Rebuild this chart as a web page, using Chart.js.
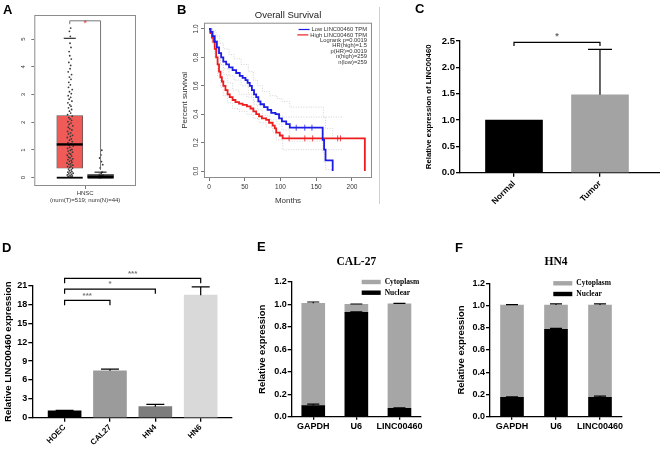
<!DOCTYPE html>
<html>
<head>
<meta charset="utf-8">
<script src="https://cdn.jsdelivr.net/npm/chart.js@4.4.1/dist/chart.umd.min.js"></script>
<style>
    body { margin: 0; background: #fff; }
    #wrap { position: relative; width: 660px; height: 449px; overflow: hidden; font-family: 'Liberation Sans', Arial, sans-serif; }
    #wrap canvas { position: absolute; }
    .lbl { position: absolute; font-weight: bold; font-size: 13px; line-height: 13px; color: #000; }
    .sep { position: absolute; left: 379px; top: 7px; width: 1px; height: 197px; background: #d0d0d0; }
</style>
</head>
<body>
<div id="wrap">
    <canvas id="chartA" width="140" height="210" style="left:0;top:0"></canvas>
    <canvas id="chartB" width="198" height="210" style="left:180px;top:0"></canvas>
    <canvas id="chartC" width="248" height="190" style="left:412px;top:20px"></canvas>
    <canvas id="chartD" width="235" height="209" style="left:0;top:240px"></canvas>
    <canvas id="chartE" width="200" height="209" style="left:240px;top:240px"></canvas>
    <canvas id="chartF" width="220" height="209" style="left:440px;top:240px"></canvas>
    <div class="sep"></div>
    <div class="lbl" style="left:3px;top:3px">A</div>
    <div class="lbl" style="left:177px;top:3px">B</div>
    <div class="lbl" style="left:415px;top:2px">C</div>
    <div class="lbl" style="left:2px;top:241px">D</div>
    <div class="lbl" style="left:257px;top:240px">E</div>
    <div class="lbl" style="left:455px;top:241px">F</div>
</div>
<script>
// ---- A: GEPIA box plot (HNSC) ----
const boxPos = [1, 2] // Tumor, Normal
const boxQ1 = [0.34, 0.0]
const boxQ3 = [2.24, 0.12]
const boxMedian = [1.2, 0.04]
const boxWhiskLow = [0, 0]
const boxWhiskHigh = [5.03, 0.2]
const boxColors = ['#f05a57', '#8a8a8a']
const aYTicks = [0, 1, 2, 3, 4, 5]
const aXLabel = ['HNSC', '(num(T)=519; num(N)=44)']
const tumorPts = [
    [0.98,0.02],[1.04,0.03],[0.95,0.05],[1.08,0.06],[1.01,0.08],[0.92,0.1],[1.06,0.12],[0.97,0.14],[1.11,0.16],[1.02,0.18],[0.94,0.2],[1.07,0.22],[0.99,0.25],[1.05,0.28],
    [0.96,0.31],[1.09,0.34],[1.0,0.37],[0.93,0.4],[1.04,0.42],[1.1,0.45],[0.97,0.48],[1.03,0.5],[0.91,0.53],[1.07,0.56],[0.99,0.59],
    [1.05,0.62],[0.94,0.65],[1.1,0.68],[1.01,0.71],[0.96,0.74],[1.06,0.78],[0.92,0.81],[1.03,0.85],[0.98,0.88],[1.09,0.92],[0.95,0.96],[1.02,0.99],
    [1.07,1.02],[0.93,1.06],[1.0,1.1],[1.11,1.14],[0.97,1.18],[1.04,1.22],[0.94,1.26],[1.08,1.3],[0.99,1.35],[1.05,1.4],[0.92,1.45],[1.02,1.49],
    [1.09,1.53],[0.96,1.58],[1.03,1.62],[0.93,1.67],[1.07,1.72],[1.0,1.77],[0.95,1.82],[1.1,1.87],[0.98,1.92],[1.04,1.97],
    [0.94,2.02],[1.06,2.07],[1.01,2.12],[0.97,2.17],[1.08,2.22],[0.93,2.27],[1.03,2.33],[0.99,2.4],[1.06,2.46],
    [0.96,2.52],[1.04,2.58],[1.0,2.63],[0.94,2.7],[1.07,2.76],[0.98,2.83],[1.03,2.9],[0.95,2.96],
    [1.05,3.03],[0.99,3.1],[1.08,3.18],[0.96,3.26],[1.02,3.35],[0.97,3.44],
    [1.04,3.55],[0.99,3.63],[1.06,3.72],[0.95,3.82],[1.01,3.93],
    [1.03,4.05],[0.97,4.16],[1.05,4.28],[1.0,4.4],
    [0.98,4.55],[1.04,4.7],[1.01,4.85],
    [1.02,5.1],[0.99,5.28],[1.03,5.4]
]
const normalPts = [
    [1.97,0.0],[2.03,0.01],[1.95,0.02],[2.06,0.03],[2.0,0.04],[1.93,0.05],[2.04,0.06],[1.98,0.08],[2.08,0.1],
    [1.96,0.12],[2.02,0.15],[2.05,0.2],[1.99,0.35],[2.07,0.47],[2.03,0.58],[1.97,0.71],[2.01,0.82],[2.04,0.99]
]

// ---- B: Kaplan-Meier, overall survival (months, survival) ----
const kmLow = [
    [0,1],[2,0.98],[5,0.95],[8,0.91],[11,0.87],[14,0.83],[17,0.8],[20,0.77],[24,0.75],[28,0.73],[33,0.71],[38,0.69],
    [43,0.67],[47,0.655],[51,0.64],[54,0.62],[57,0.6],[60,0.57],[63,0.54],[66,0.52],[69,0.49],[72,0.47],[77,0.45],
    [82,0.43],[87,0.41],[93,0.4],[98,0.37],[102,0.35],[108,0.33],[113,0.305],[159,0.22],[161,0.15],[163,0.075],[173,0]
]
const kmHigh = [
    [0,1],[2,0.97],[4,0.94],[6,0.91],[8,0.86],[10,0.8],[12,0.75],[14,0.7],[16,0.66],[18,0.63],[20,0.6],[23,0.57],
    [26,0.54],[29,0.52],[33,0.5],[37,0.485],[42,0.475],[47,0.465],[53,0.455],[58,0.44],[62,0.42],[66,0.4],[70,0.385],
    [74,0.37],[80,0.36],[84,0.34],[89,0.32],[92,0.3],[94,0.27],[99,0.25],[103,0.23],[218,0]
]
const ciLowUp = [[0,1],[5,0.99],[10,0.95],[15,0.9],[20,0.86],[28,0.82],[35,0.79],[45,0.75],[55,0.7],[62,0.64],[68,0.6],[75,0.56],[85,0.53],[95,0.51],[102,0.49],[113,0.45],[160,0.38],[163,0.3],[173,0.22]]
const ciLowDn = [[0,1],[5,0.92],[10,0.86],[15,0.78],[20,0.72],[28,0.67],[35,0.64],[45,0.6],[55,0.54],[62,0.47],[68,0.43],[75,0.39],[85,0.36],[95,0.33],[102,0.29],[113,0.21],[159,0.13],[161,0.06],[163,0.01],[173,0]]
const ciHighUp = [[0,1],[4,0.98],[8,0.92],[12,0.83],[16,0.75],[20,0.68],[26,0.62],[33,0.57],[42,0.54],[53,0.52],[62,0.49],[70,0.46],[80,0.43],[89,0.41],[94,0.39],[103,0.38],[187,0.38]]
const ciHighDn = [[0,1],[4,0.9],[8,0.8],[12,0.67],[16,0.59],[20,0.53],[26,0.48],[33,0.44],[42,0.42],[53,0.4],[62,0.37],[70,0.34],[80,0.31],[89,0.27],[94,0.22],[103,0.15],[187,0.15]]
const censorLow = [[122,0.305],[134,0.305],[144,0.305]]
const censorHigh = [[112,0.23],[134,0.23],[145,0.23],[180,0.23],[184,0.23]]
const bXTicks = [0, 50, 100, 150, 200]
const bLegend = ['Low LINC00460 TPM', 'High LINC00460 TPM']
const bStats = ['Logrank p=0.0019', 'HR(high)=1.5', 'p(HR)=0.0019', 'n(high)=259', 'n(low)=259']

// ---- C: Normal vs Tumor ----
const cCats = ['Normal', 'Tumor']
const cVals = [1.0, 1.48]
const cErr = [0, 0.86]
const cColors = ['#000000', '#a3a3a3']

// ---- D: cell lines ----
const dCats = ['HOEC', 'CAL27', 'HN4', 'HN6']
const dVals = [1.1, 7.45, 1.75, 19.5]
const dErr = [0.06, 0.28, 0.36, 1.3]
const dColors = ['#000000', '#9b9b9b', '#7d7d7d', '#d9d9d9']
const dSig = [[1, 2, 18.65, '***'], [1, 3, 20.45, '*'], [1, 4, 22.15, '***']]

// ---- E/F: nuclear / cytoplasm fractions ----
const locCats = ['GAPDH', 'U6', 'LINC00460']
const eNuclear = [0.1, 0.93, 0.075]
const eCyto = [0.91, 0.07, 0.93]
const eNucErr = [0.012, 0.005, 0.004]
const eCytoErr = [0.012, 0.004, 0.004]
const fNuclear = [0.175, 0.785, 0.175]
const fCyto = [0.83, 0.22, 0.83]
const fNucErr = [0.004, 0.01, 0.01]
const fCytoErr = [0.004, 0.01, 0.01]

Chart.defaults.font.family = "'Liberation Sans', Arial, sans-serif"
Chart.defaults.color = '#000'

const SANS = "'Liberation Sans', Arial, sans-serif"
const SERIF = "'Liberation Serif', 'Times New Roman', serif"

const baseOpts = {
    responsive: false,
    animation: false,
    devicePixelRatio: 1,
    events: [],
    plugins: { legend: { display: false }, tooltip: { enabled: false } }
}

function text(ctx, str, x, y, font, color, align, base) {
    ctx.save()
    ctx.font = font
    ctx.fillStyle = color || '#000'
    ctx.textAlign = align || 'center'
    ctx.textBaseline = base || 'middle'
    ctx.fillText(str, x, y)
    ctx.restore()
}

function drawFrame(chart, color) {
    const a = chart.chartArea
    const ctx = chart.ctx
    ctx.save()
    ctx.strokeStyle = color
    ctx.lineWidth = 1
    ctx.strokeRect(a.left + 0.5, a.top + 0.5, a.right - a.left - 1, a.bottom - a.top - 1)
    ctx.restore()
}

function drawErrors(chart, dsIndex, errs, half) {
    const meta = chart.getDatasetMeta(dsIndex)
    const ys = chart.scales.y
    const ctx = chart.ctx
    ctx.save()
    ctx.strokeStyle = '#000'
    ctx.lineWidth = 1.2
    meta.data.forEach((bar, i) => {
        if (!errs[i]) return
        const v = ys.getValueForPixel(bar.y)
        const top = ys.getPixelForValue(v + errs[i])
        ctx.beginPath()
        ctx.moveTo(bar.x, bar.y)
        ctx.lineTo(bar.x, top)
        ctx.moveTo(bar.x - half, top)
        ctx.lineTo(bar.x + half, top)
        ctx.stroke()
    })
    ctx.restore()
}

function drawBracket(chart, x1, x2, y, drop, label, starFont, starColor) {
    const xs = chart.scales.x
    const ys = chart.scales.y
    const ctx = chart.ctx
    const p1 = xs.getPixelForValue(x1)
    const p2 = xs.getPixelForValue(x2)
    const py = ys.getPixelForValue(y)
    const pd = ys.getPixelForValue(y - drop)
    ctx.save()
    ctx.strokeStyle = '#000'
    ctx.lineWidth = 1.2
    ctx.beginPath()
    ctx.moveTo(p1, pd)
    ctx.lineTo(p1, py)
    ctx.lineTo(p2, py)
    ctx.lineTo(p2, pd)
    ctx.stroke()
    ctx.restore()
    text(ctx, label, (p1 + p2) / 2, py - 1, starFont, starColor, 'center', 'bottom')
}

// GraphPad style axis pieces
function gpY(min, max, step, width, title, titleSize, titlePad, tickSize) {
    return {
        min, max,
        afterFit: (s) => { s.width = width },
        afterBuildTicks: (s) => {
            const t = []
            for (let k = 0; min + k * step <= max + 1e-9; k++) t.push({ value: +(min + k * step).toFixed(3) })
            s.ticks = t
        },
        border: { display: true, color: '#000', width: 1.3 },
        grid: { display: true, drawOnChartArea: false, drawTicks: true, tickLength: 4, color: '#000', lineWidth: 1.3 },
        ticks: { font: { size: tickSize, weight: 'bold' }, padding: 1, color: '#000', autoSkip: false, callback: (v) => step < 1 ? v.toFixed(1) : v },
        title: { display: true, text: title, font: { size: titleSize, weight: 'bold' }, padding: { top: titlePad, bottom: 0 }, color: '#000' }
    }
}

// ---------------- A ----------------
new Chart(document.getElementById('chartA'), {
    type: 'bar',
    data: {
        datasets: [
            {
                type: 'bar',
                order: 2,
                data: boxPos.map((p, i) => ({ x: p, y: [boxQ1[i], boxQ3[i]] })),
                backgroundColor: boxColors,
                borderColor: '#555',
                borderWidth: 0.8,
                borderSkipped: false,
                barThickness: 26
            },
            {
                type: 'scatter',
                order: 1,
                data: tumorPts.concat(normalPts).map((p) => ({ x: p[0], y: p[1] })),
                pointRadius: 0.9,
                backgroundColor: '#3a3a3a',
                borderWidth: 0
            }
        ]
    },
    options: {
        ...baseOpts,
        layout: { padding: { top: 15, right: 4, bottom: 0, left: 0 } },
        scales: {
            x: {
                type: 'linear', min: -0.15, max: 3.15, offset: false,
                afterFit: (s) => { s.height = 24 },
                afterBuildTicks: (s) => { s.ticks = [{ value: 1.5 }] },
                border: { display: false },
                grid: { display: true, offset: false, drawOnChartArea: false, tickLength: 3, color: '#777' },
                ticks: { font: { size: 6 }, padding: 1, color: '#333', callback: () => aXLabel }
            },
            y: {
                min: -0.3, max: 5.87,
                afterFit: (s) => { s.width = 34.3 },
                afterBuildTicks: (s) => { s.ticks = aYTicks.map((v) => ({ value: v })) },
                border: { display: false },
                grid: { display: true, drawOnChartArea: false, tickLength: 3, color: '#777' },
                ticks: { font: { size: 6 }, color: '#333', minRotation: 90, maxRotation: 90, crossAlign: 'center', padding: 6 }
            }
        }
    },
    plugins: [{
        id: 'boxExtras',
        afterDatasetsDraw(chart) {
            const { ctx, scales: { x, y } } = chart
            drawFrame(chart, '#8c8c8c')
            ctx.save()
            ctx.strokeStyle = '#000'
            boxPos.forEach((p, i) => {
                const cx = x.getPixelForValue(p)
                // median
                ctx.lineWidth = 2.4
                ctx.beginPath()
                ctx.moveTo(cx - 13, y.getPixelForValue(boxMedian[i]))
                ctx.lineTo(cx + 13, y.getPixelForValue(boxMedian[i]))
                ctx.stroke()
                // whisker caps
                ctx.lineWidth = 1
                ctx.beginPath()
                ctx.moveTo(cx - 6, y.getPixelForValue(boxWhiskHigh[i]))
                ctx.lineTo(cx + 6, y.getPixelForValue(boxWhiskHigh[i]))
                ctx.stroke()
                ctx.lineWidth = 1.8
                ctx.beginPath()
                ctx.moveTo(cx - 13, y.getPixelForValue(boxWhiskLow[i]))
                ctx.lineTo(cx + 13, y.getPixelForValue(boxWhiskLow[i]))
                ctx.stroke()
            })
            // significance bracket
            const p1 = x.getPixelForValue(boxPos[0])
            const p2 = x.getPixelForValue(boxPos[1])
            const top = y.getPixelForValue(5.66)
            ctx.strokeStyle = '#666'
            ctx.lineWidth = 0.9
            ctx.beginPath()
            ctx.moveTo(p1, y.getPixelForValue(5.54))
            ctx.lineTo(p1, top)
            ctx.lineTo(p2, top)
            ctx.lineTo(p2, y.getPixelForValue(0.28))
            ctx.stroke()
            ctx.restore()
            text(ctx, '*', (p1 + p2) / 2, top + 2.5, '9px ' + SANS, '#e8393a')
        }
    }]
})

// ---------------- B ----------------
const kmLine = (pts, color, width, dash) => ({
    type: 'line',
    data: pts.map((p) => ({ x: p[0], y: p[1] })),
    borderColor: color,
    borderWidth: width,
    borderDash: dash || [],
    stepped: true,
    pointRadius: 0,
    fill: false
})
const censor = (pts, color) => ({
    type: 'scatter',
    data: pts.map((p) => ({ x: p[0], y: p[1] })),
    pointStyle: 'line',
    rotation: 90,
    pointRadius: 3,
    borderColor: color,
    borderWidth: 0.8
})

new Chart(document.getElementById('chartB'), {
    type: 'line',
    data: {
        datasets: [
            kmLine(kmLow, '#1c1ce6', 1.8),
            kmLine(kmHigh, '#ee1c1c', 1.8),
            censor(censorLow, '#1c1ce6'),
            censor(censorHigh, '#ee1c1c'),
            kmLine(ciLowUp, '#c8c8c8', 0.8, [1, 1.5]),
            kmLine(ciLowDn, '#c8c8c8', 0.8, [1, 1.5]),
            kmLine(ciHighUp, '#c8c8c8', 0.8, [1, 1.5]),
            kmLine(ciHighDn, '#c8c8c8', 0.8, [1, 1.5])
        ]
    },
    options: {
        ...baseOpts,
        layout: { padding: { top: 22.7, right: 6, bottom: 0, left: 0 } },
        scales: {
            x: {
                type: 'linear', min: -7, max: 228,
                afterFit: (s) => { s.height = 32 },
                afterBuildTicks: (s) => { s.ticks = bXTicks.map((v) => ({ value: v })) },
                border: { display: false },
                grid: { display: true, drawOnChartArea: false, tickLength: 3, color: '#777' },
                ticks: { font: { size: 6.5 }, color: '#333', padding: 2, maxRotation: 0, autoSkip: false },
                title: { display: true, text: 'Months', font: { size: 8 }, color: '#333', padding: { top: 0, bottom: 4 } }
            },
            y: {
                type: 'linear', min: -0.049, max: 1.044,
                afterFit: (s) => { s.width = 24 },
                afterBuildTicks: (s) => { s.ticks = [0, 0.2, 0.4, 0.6, 0.8, 1.0].map((v) => ({ value: v })) },
                border: { display: false },
                grid: { display: true, drawOnChartArea: false, tickLength: 3, color: '#777' },
                ticks: { font: { size: 6.5 }, color: '#333', minRotation: 90, maxRotation: 90, crossAlign: 'center', padding: 0, autoSkip: false, callback: (v) => v.toFixed(1) },
                title: { display: true, text: 'Percent survival', font: { size: 8 }, color: '#333', padding: { top: 0, bottom: 0 } }
            }
        }
    },
    plugins: [{
        id: 'kmExtras',
        afterDatasetsDraw(chart) {
            const { ctx, chartArea: a } = chart
            drawFrame(chart, '#8c8c8c')
            text(ctx, 'Overall Survival', (a.left + a.right) / 2, 15, '9.5px ' + SANS, '#222')
            const right = a.right - 5
            const font = '5.8px ' + SANS
            ctx.save()
            ctx.font = font
            bLegend.forEach((t, i) => {
                const y = 29.5 + i * 5.4
                const w = ctx.measureText(t).width
                ctx.strokeStyle = i === 0 ? '#1c1ce6' : '#ee1c1c'
                ctx.lineWidth = 1.2
                ctx.beginPath()
                ctx.moveTo(right - w - 13, y)
                ctx.lineTo(right - w - 2, y)
                ctx.stroke()
            })
            ctx.restore()
            bLegend.concat(bStats).forEach((t, i) => {
                text(ctx, t, right, 29.5 + i * 5.4, font, '#333', 'right')
            })
        }
    }]
})

// ---------------- C ----------------
new Chart(document.getElementById('chartC'), {
    type: 'bar',
    data: {
        datasets: [{
            data: cVals.map((v, i) => ({ x: i + 1, y: v })),
            backgroundColor: cColors,
            barThickness: 57
        }]
    },
    options: {
        ...baseOpts,
        layout: { padding: { top: 21, right: 0, bottom: 0, left: 0 } },
        scales: {
            x: {
                type: 'linear', min: 0.372, max: 2.698, offset: false,
                afterFit: (s) => { s.height = 37.3 },
                afterBuildTicks: (s) => { s.ticks = cCats.map((c, i) => ({ value: i + 1 })) },
                border: { display: true, color: '#000', width: 1.3 },
                grid: { display: true, offset: false, drawOnChartArea: false, tickLength: 4, color: '#000', lineWidth: 1.3 },
                ticks: { font: { size: 8.5, weight: 'bold' }, minRotation: 45, maxRotation: 45, padding: 2, color: '#000', autoSkip: false, callback: (v) => cCats[v - 1] }
            },
            y: gpY(0, 2.5, 0.5, 48, 'Relative expression of LINC00460', 7.8, 12.6, 9.5)
        }
    },
    plugins: [{
        id: 'cExtras',
        afterDatasetsDraw(chart) {
            drawErrors(chart, 0, cErr, 12)
            drawBracket(chart, 1, 2, 2.475, 0.07, '*', 'bold 9px ' + SANS, '#666')
        }
    }]
})

// ---------------- D ----------------
new Chart(document.getElementById('chartD'), {
    type: 'bar',
    data: {
        datasets: [{
            data: dVals.map((v, i) => ({ x: i + 1, y: v })),
            backgroundColor: dColors,
            barThickness: 33
        }]
    },
    options: {
        ...baseOpts,
        layout: { padding: { top: 45.7, right: 3, bottom: 0, left: 0 } },
        scales: {
            x: {
                type: 'linear', min: 0.288, max: 4.69, offset: false,
                afterFit: (s) => { s.height = 31.3 },
                afterBuildTicks: (s) => { s.ticks = dCats.map((c, i) => ({ value: i + 1 })) },
                border: { display: true, color: '#000', width: 1.3 },
                grid: { display: true, offset: false, drawOnChartArea: false, tickLength: 4, color: '#000', lineWidth: 1.3 },
                ticks: { font: { size: 8, weight: 'bold' }, minRotation: 45, maxRotation: 45, padding: 1, color: '#000', autoSkip: false, callback: (v) => dCats[v - 1] }
            },
            y: gpY(0, 21, 3, 32.3, 'Relative LINC00460 expression', 9.5, 2.3, 9)
        }
    },
    plugins: [{
        id: 'dExtras',
        afterDatasetsDraw(chart) {
            drawErrors(chart, 0, dErr, 9)
            dSig.forEach((s) => drawBracket(chart, s[0], s[1], s[2], 0.75, s[3], 'bold 8px ' + SANS, '#777'))
        }
    }]
})

// ---------------- E / F ----------------
function fractionChart(id, title, nuclear, cyto, nucErr, cytoErr, padTop, padRight, yWidth, titlePad, legendX) {
    new Chart(document.getElementById(id), {
        type: 'bar',
        data: {
            labels: locCats,
            datasets: [
                { label: 'Nuclear', data: nuclear, backgroundColor: '#000000', barThickness: 23 },
                { label: 'Cytoplasm', data: cyto, backgroundColor: '#a6a6a6', barThickness: 23 }
            ]
        },
        options: {
            ...baseOpts,
            layout: { padding: { top: padTop, right: padRight, bottom: 0, left: 0 } },
            scales: {
                x: {
                    stacked: true,
                    afterFit: (s) => { s.height = 32.3 },
                    border: { display: true, color: '#000', width: 1.3 },
                    grid: { display: true, offset: false, drawOnChartArea: false, tickLength: 3, color: '#000', lineWidth: 1.3 },
                    ticks: { font: { size: 9, weight: 'bold' }, padding: 1, color: '#000', maxRotation: 0, autoSkip: false }
                },
                y: { ...gpY(0, 1.2, 0.2, yWidth, 'Relative expression', 9.5, titlePad, 9), stacked: true }
            }
        },
        plugins: [{
            id: id + 'Extras',
            afterDatasetsDraw(chart) {
                const { ctx, chartArea: a } = chart
                drawErrors(chart, 1, cytoErr, 6)
                drawErrors(chart, 0, nucErr, 6)
                text(ctx, title, (a.left + a.right) / 2, 21.7, 'bold 11.5px ' + SERIF, '#000')
                const lx = a.left + legendX
                const rows = [['Cytoplasm', '#a6a6a6'], ['Nuclear', '#000000']]
                rows.forEach((r, i) => {
                    const cy = a.top + i * 10.7
                    ctx.fillStyle = r[1]
                    ctx.fillRect(lx, cy - 2.2, 19, 4.4)
                    text(ctx, r[0], lx + 23, cy, 'bold 7.5px ' + SERIF, '#000', 'left')
                })
            }
        }]
    })
}

fractionChart('chartE', 'CAL-27', eNuclear, eCyto, eNucErr, eCytoErr, 42, 19, 51.7, 17, 70)
fractionChart('chartF', 'HN4', fNuclear, fCyto, fNucErr, fCytoErr, 43.3, 38, 50, 16, 63.3)
</script>
</body>
</html>
